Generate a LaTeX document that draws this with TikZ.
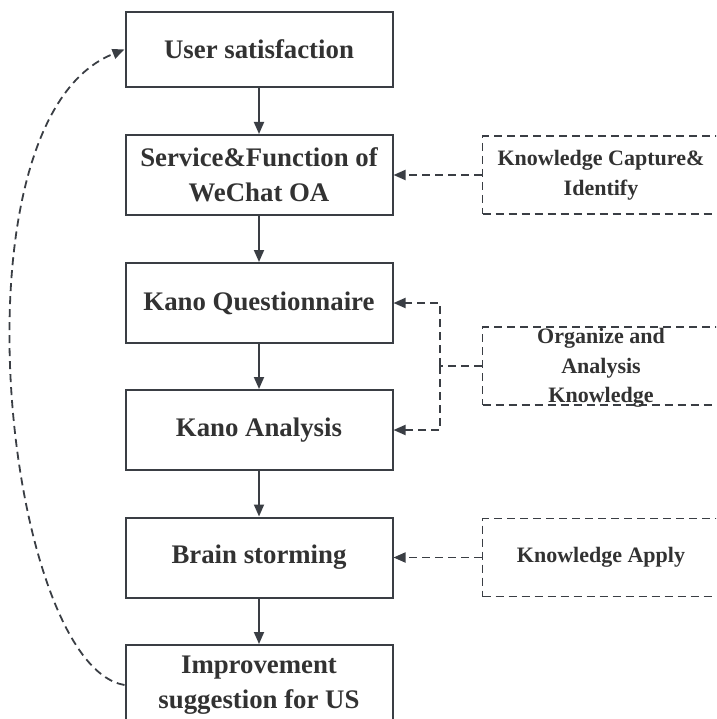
\documentclass[tikz,border=0pt]{standalone}
\usepackage{fontspec}
\setmainfont{Liberation Serif}
\usetikzlibrary{arrows.meta}
\definecolor{linegray}{RGB}{58,62,68}
\definecolor{textgray}{RGB}{50,50,50}
\tikzset{
    mainbox/.style={draw=linegray,line width=2pt,minimum width=267pt,minimum height=80pt,inner sep=3pt,align=center,text=textgray,font=\bfseries\fontsize{26.8}{35}\selectfont},
    sidebox/.style={draw=linegray,line width=1.9pt,dash pattern=on 8pt off 5pt,minimum width=237pt,minimum height=78pt},
    sidetext/.style={align=center,text=textgray,inner sep=0pt,font=\bfseries\fontsize{22}{29.5}\selectfont},
    flow/.style={draw=linegray,line width=1.8pt,-{Triangle[length=12pt,width=10pt]}},
    feedline/.style={draw=linegray,line width=1.8pt,dash pattern=on 8pt off 5pt},
    feed/.style={feedline,-{Triangle[length=12pt,width=10pt]}}
}
\begin{document}
\begin{tikzpicture}[x=1pt,y=-1pt]
\useasboundingbox (0,0) rectangle (716,719);
\clip (0,0) rectangle (716,719);

% main chain
\node[mainbox,minimum height=75pt] (sat) at (259,49.5) {User satisfaction};
\node[mainbox] (serv) at (259,175) {Service\&Function of\\WeChat OA};
\node[mainbox] (quest) at (259,303) {Kano Questionnaire};
\node[mainbox] (ana) at (259,430) {Kano Analysis};
\node[mainbox] (brain) at (259,557.5) {Brain storming};
\node[mainbox] (impr) at (259,685) {Improvement\\suggestion for US};

\draw[flow] (sat) -- (serv);
\draw[flow] (serv) -- (quest);
\draw[flow] (quest) -- (ana);
\draw[flow] (ana) -- (brain);
\draw[flow] (brain) -- (impr);

% knowledge side
\node[sidebox,sidetext] (capture) at (601,175) {Knowledge Capture\&\\Identify};
\node[sidebox] (organize) at (601,366) {};
\node[sidetext] (organizetxt) at (601,368) {Organize and\\Analysis\\Knowledge};
\node[sidebox,sidetext] (apply) at (601,557.5) {Knowledge Apply};

\draw[feed] (capture) -- (serv);
\coordinate (split) at (440,366);
\draw[feedline] (organize.west) -- (split);
\draw[feed] (split) |- (quest.east);
\draw[feed] (split) |- (ana.east);
\draw[feed] (apply) -- (brain);

% loop back
\draw[feed] (impr.west) .. controls (5,665) and (-55,120) .. (sat.west);

\end{tikzpicture}
\end{document}
